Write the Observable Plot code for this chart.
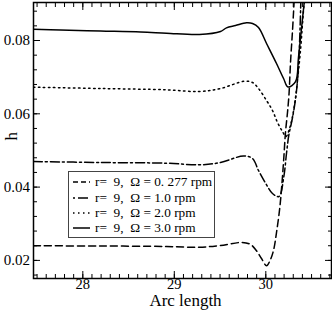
<!DOCTYPE html>
<html><head><meta charset="utf-8">
<script src="https://cdn.jsdelivr.net/npm/d3@7"></script>
<script src="https://cdn.jsdelivr.net/npm/@observablehq/plot@0.6"></script>
<style>
body{margin:0;background:#fff;}
#wrap{position:relative;width:332px;height:313px;font-family:"Liberation Serif","Times New Roman",serif;}
#legend{position:absolute;left:68px;top:171px;width:147px;height:67px;border:1px solid #444;background:#fff;box-sizing:border-box;}
.row{position:absolute;left:0;height:15px;display:flex;align-items:center;font-size:13.3px;white-space:pre;color:#000;}
.row svg{margin-left:4px;margin-right:5px;}
</style></head><body><div id="wrap"></div>
<script>
// Ω = 0.277 rpm (dashed)
const x0277 = [27.461, 28.193, 28.915, 29.275, 29.505, 29.734, 29.833, 29.898, 29.953, 30.008, 30.051, 30.084, 30.117, 30.153, 30.179, 30.197, 30.215, 30.237, 30.254, 30.270, 30.292, 30.310];
const h0277 = [0.02398, 0.02393, 0.02379, 0.0236, 0.02407, 0.02488, 0.02434, 0.02262, 0.02052, 0.01853, 0.02025, 0.0227, 0.02761, 0.03443, 0.0418, 0.04808, 0.0549, 0.06035, 0.06554, 0.074, 0.08273, 0.09091];
// Ω = 1.0 rpm (dash-dot)
const x10 = [27.461, 28.193, 28.915, 29.275, 29.505, 29.756, 29.855, 29.920, 30.000, 30.073, 30.144, 30.197, 30.226, 30.251, 30.281, 30.306, 30.336, 30.361, 30.383];
const h10 = [0.04698, 0.04671, 0.04652, 0.04608, 0.04671, 0.04849, 0.0478, 0.04453, 0.04098, 0.03825, 0.03744, 0.04289, 0.04917, 0.05408, 0.05763, 0.0609, 0.06636, 0.07454, 0.09091];
// Ω = 2.0 rpm (dotted)
const x20 = [27.461, 28.193, 28.915, 29.275, 29.505, 29.767, 29.855, 29.920, 30.008, 30.073, 30.128, 30.182, 30.221, 30.259, 30.292, 30.325, 30.346, 30.379, 30.412, 30.422];
const h20 = [0.06726, 0.0669, 0.06655, 0.06608, 0.0669, 0.06889, 0.06854, 0.0669, 0.06363, 0.0609, 0.05763, 0.05517, 0.05381, 0.05599, 0.05926, 0.06445, 0.06909, 0.07727, 0.08819, 0.09091];
// Ω = 3.0 rpm (solid)
const x30 = [27.461, 27.756, 28.193, 28.632, 28.915, 29.275, 29.505, 29.570, 29.669, 29.789, 29.855, 29.920, 30.008, 30.117, 30.194, 30.243, 30.325, 30.357, 30.390, 30.422];
const h30 = [0.08308, 0.08286, 0.08259, 0.08232, 0.08199, 0.08164, 0.08246, 0.08346, 0.08409, 0.08483, 0.08464, 0.08355, 0.07918, 0.07372, 0.06963, 0.06731, 0.06881, 0.07536, 0.08327, 0.09091];

const legendLabels = ["r=  9,  Ω = 0. 277 rpm", "r=  9,  Ω = 1.0 rpm", "r=  9,  Ω = 2.0 rpm", "r=  9,  Ω = 3.0 rpm"];
const dashes = ["7,4", "9,3,2,3", "1.5,3.5", null];
const legendDashes = ["5,3", "2,3,8,0", "1.5,3.5", null];

const xMajor = [28, 29, 30];
const xMinor = d3.range(275, 308).map(d => d / 10);
const yMajor = [0.02, 0.04, 0.06, 0.08];
const yMinor = d3.range(4, 23).map(d => +(d * 0.004).toFixed(3));
const xDomain = [27.461, 30.718];
const yDomain = [0.01506, 0.09037];

const seriesX = [x0277, x10, x20, x30];
const seriesH = [h0277, h10, h20, h30];

const lines = seriesX.map((xs, i) => {
  const data = xs.map((x, j) => ({x, h: seriesH[i][j]}));
  return Plot.line(data, {x: "x", y: "h", stroke: "black", strokeWidth: 1.5,
    strokeDasharray: dashes[i] || undefined, curve: "catmull-rom", clip: true});
});

const plot = Plot.plot({
  width: 332, height: 313,
  marginLeft: 33, marginRight: 1, marginTop: 2, marginBottom: 35,
  x: {domain: xDomain},
  y: {domain: yDomain},
  style: {fontFamily: '"Liberation Serif", "Times New Roman", serif', fontSize: "14px", color: "black", background: "white"},
  marks: [
    ...lines,
    Plot.frame({stroke: "black", strokeWidth: 1.5}),
    Plot.axisX(xMajor, {anchor: "bottom", tickSize: -7, fill: "none", label: null}),
    Plot.axisX(xMinor, {anchor: "bottom", tickSize: -4, fill: "none", label: null}),
    Plot.axisX(xMajor, {anchor: "top", tickSize: -7, fill: "none", label: null}),
    Plot.axisX(xMinor, {anchor: "top", tickSize: -4, fill: "none", label: null}),
    Plot.axisY(yMajor, {anchor: "left", tickSize: -7, fill: "none", label: null}),
    Plot.axisY(yMinor, {anchor: "left", tickSize: -4, fill: "none", label: null}),
    Plot.axisY(yMajor, {anchor: "right", tickSize: -7, fill: "none", label: null}),
    Plot.axisY(yMinor, {anchor: "right", tickSize: -4, fill: "none", label: null}),
    Plot.axisX(xMajor, {anchor: "bottom", tickSize: 0, tickPadding: 0, label: null, fontSize: 14.5}),
    Plot.axisY(yMajor, {anchor: "left", tickSize: 0, tickPadding: 3.5, label: null, fontSize: 15, tickFormat: d => d.toFixed(2)}),
    Plot.text(["Arc length"], {frameAnchor: "bottom", dx: 3, dy: 22, text: d => d, fontSize: 17, lineAnchor: "middle"}),
    Plot.text(["h"], {frameAnchor: "left", dx: -22, dy: 0, rotate: -90, text: d => d, fontSize: 17, lineAnchor: "middle"})
  ]
});

const wrap = document.getElementById("wrap");
wrap.appendChild(plot);

const legend = document.createElement("div");
legend.id = "legend";
const rowTops = [2.5, 18.5, 33.5, 48.5];
legendLabels.forEach((lab, i) => {
  const row = document.createElement("div");
  row.className = "row";
  row.style.top = rowTops[i] + "px";
  const da = legendDashes[i] ? ` stroke-dasharray="${legendDashes[i]}"` : "";
  row.innerHTML = `<svg width="17" height="4"><line x1="0" y1="2" x2="17" y2="2" stroke="black" stroke-width="1.5"${da}/></svg>`;
  const span = document.createElement("span");
  span.textContent = lab;
  row.appendChild(span);
  legend.appendChild(row);
});
wrap.appendChild(legend);
</script>
</body></html>
